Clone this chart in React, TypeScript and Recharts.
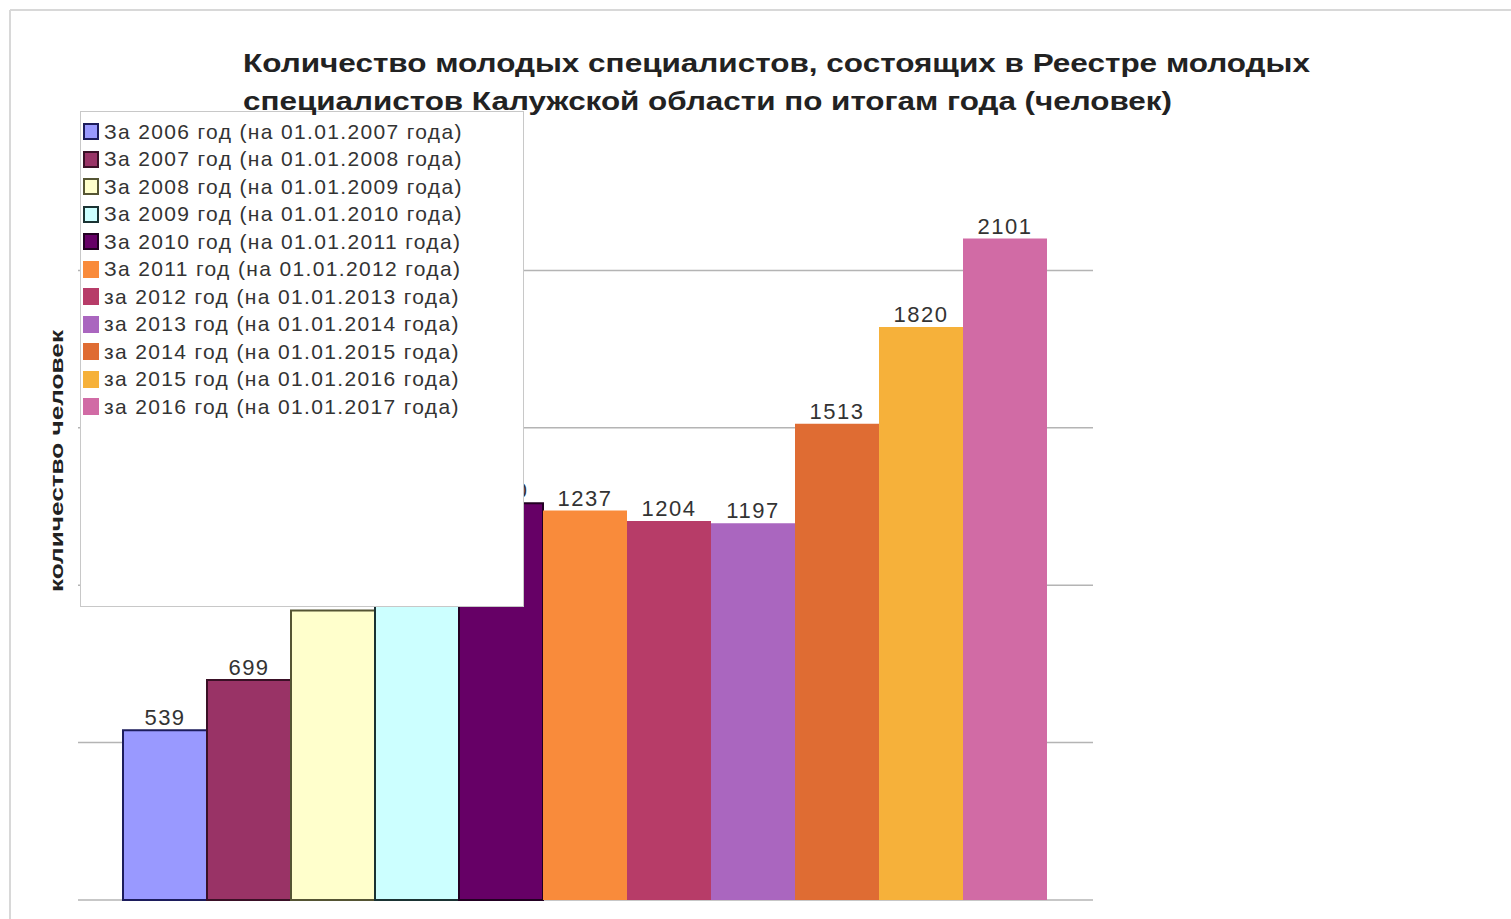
import React from 'react';
import { BarChart, Bar, XAxis, YAxis, CartesianGrid, LabelList, Legend } from 'recharts';

const titleLines = [
  'Количество молодых специалистов, состоящих в Реестре молодых',
  'специалистов Калужской области по итогам года (человек)',
];
const yAxisTitle = 'количество человек';

const seriesNames = [
  'За 2006 год (на 01.01.2007 года)',
  'За 2007 год (на 01.01.2008 года)',
  'За 2008 год (на 01.01.2009 года)',
  'За 2009 год (на 01.01.2010 года)',
  'За 2010 год (на 01.01.2011 года)',
  'За 2011 год (на 01.01.2012 года)',
  'за 2012 год (на 01.01.2013 года)',
  'за 2013 год (на 01.01.2014 года)',
  'за 2014 год (на 01.01.2015 года)',
  'за 2015 год (на 01.01.2016 года)',
  'за 2016 год (на 01.01.2017 года)',
];
const seriesValues = [539, 699, 920, 1005, 1260, 1237, 1204, 1197, 1513, 1820, 2101];
const seriesColors = [
  '#9999ff', '#993366', '#ffffcc', '#ccffff', '#660066',
  '#f98b3b', '#b73c68', '#aa66bf', '#df6c33', '#f6b13a', '#d16ba5',
];
const seriesStrokes = [
  '#1c1c5c', '#3a1026', '#555533', '#1a3333', '#220022',
  null, null, null, null, null, null,
];
const yTicks = [0, 500, 1000, 1500, 2000];
const yDomain = [0, 2500];

const row: Record<string, any> = { name: '' };
seriesValues.forEach((v, i) => { row['s' + i] = v; });
const data = [row];

const font = '"Liberation Sans", Arial, sans-serif';

const LegendBox = () => (
  <div
    style={{
      width: 444,
      height: 496,
      boxSizing: 'border-box',
      border: '1px solid #c8c8c8',
      background: '#fff',
      paddingTop: 6,
      paddingLeft: 2,
      fontFamily: font,
    }}
  >
    {seriesNames.map((n, i) => (
      <div key={n} style={{ display: 'flex', alignItems: 'center', height: 27.5 }}>
        <div
          style={{
            width: 16,
            height: 17,
            boxSizing: 'border-box',
            background: seriesColors[i],
            border: seriesStrokes[i] ? `2px solid ${seriesStrokes[i]}` : 'none',
            marginRight: 5,
          }}
        />
        <span style={{ fontSize: 21, color: '#333', whiteSpace: 'nowrap', letterSpacing: 1.35 }}>{n}</span>
      </div>
    ))}
  </div>
);

const EmptyTick = () => <g />;

export default function App() {
  return (
    <div style={{ position: 'absolute', left: 0, top: 0, width: 1511, height: 919, background: '#fff', fontFamily: font }}>
      <BarChart
        width={1511}
        height={919}
        data={data}
        margin={{ top: 113, right: 418, bottom: 19, left: 78 }}
        barGap={0}
        barCategoryGap={45}
      >
        <CartesianGrid vertical={false} stroke="#b4b4b4" strokeWidth={1.5} syncWithTicks />
        <XAxis dataKey="name" hide />
        <YAxis domain={yDomain} ticks={yTicks} width={0} axisLine={false} tickLine={false} tick={EmptyTick} />
        {seriesValues.map((_, i) => (
          <Bar
            key={i}
            dataKey={'s' + i}
            fill={seriesColors[i]}
            stroke={seriesStrokes[i] || 'none'}
            strokeWidth={seriesStrokes[i] ? 2 : 0}
            isAnimationActive={false}
          >
            <LabelList
              dataKey={'s' + i}
              position="top"
              offset={5}
              fill="#333"
              fontSize={22}
              fontFamily={font}
              style={{ letterSpacing: 1.5 }}
            />
          </Bar>
        ))}
        <Legend
          layout="vertical"
          align="center"
          verticalAlign="middle"
          content={() => <LegendBox />}
          wrapperStyle={{ left: 80, top: 111, width: 444, height: 496, bottom: 'auto', right: 'auto' }}
        />
      </BarChart>
      <svg width={1511} height={919} style={{ position: 'absolute', left: 0, top: 0, pointerEvents: 'none' }}>
        <line x1={10} y1={10} x2={1511} y2={10} stroke="#d8d8d8" strokeWidth={2} />
        <line x1={10} y1={10} x2={10} y2={919} stroke="#d8d8d8" strokeWidth={2} />
        <text x={243} y={72} fontFamily={font} fontWeight="bold" fontSize={26} fill="#222" textLength={1067} lengthAdjust="spacingAndGlyphs">
          {titleLines[0]}
        </text>
        <text x={243} y={110} fontFamily={font} fontWeight="bold" fontSize={26} fill="#222" textLength={929} lengthAdjust="spacingAndGlyphs">
          {titleLines[1]}
        </text>
        <text
          x={0}
          y={0}
          transform="translate(63,461) rotate(-90)"
          textAnchor="middle"
          fontFamily={font}
          fontWeight="bold"
          fontSize={19}
          fill="#222"
          textLength={262}
          lengthAdjust="spacingAndGlyphs"
        >
          {yAxisTitle}
        </text>
      </svg>
    </div>
  );
}
